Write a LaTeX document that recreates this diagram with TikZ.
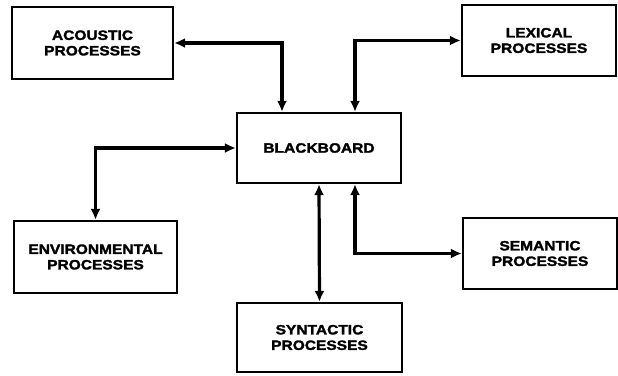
\documentclass[tikz,border=0pt]{standalone}
\usepackage{fontspec}
\newfontfamily\procfont[FakeStretch=1.15,BoldFeatures={FakeBold=2}]{Liberation Sans}
\usetikzlibrary{arrows.meta}

\tikzset{
    procbox/.style={draw,line width=2.2pt,align=center,inner sep=0pt,
        font=\procfont\bfseries\fontsize{13.5}{15.5}\selectfont},
    link/.style={line width=3.2pt,{Latex[length=11pt,width=10pt]}-{Latex[length=11pt,width=10pt]}}
}

\begin{document}
\begin{tikzpicture}[x=1pt,y=-1pt]
    \useasboundingbox (0,0) rectangle (618,375);
    \node[procbox,minimum width=161pt,minimum height=72pt] (acoustic) at (92.5,43) {ACOUSTIC\\PROCESSES};
    \node[procbox,minimum width=164pt,minimum height=70pt] (bb) at (319,148) {BLACKBOARD};
    \node[procbox,minimum width=154pt,minimum height=71pt] (lexical) at (539,40.5) {LEXICAL\\PROCESSES};
    \node[procbox,minimum width=163pt,minimum height=72pt] (environ) at (95.5,257) {ENVIRONMENTAL\\PROCESSES};
    \node[procbox,minimum width=165pt,minimum height=69pt] (syntactic) at (319.5,337.5) {SYNTACTIC\\PROCESSES};
    \node[procbox,minimum width=154pt,minimum height=71pt] (semantic) at (540,253.5) {SEMANTIC\\PROCESSES};

    \draw[link] (acoustic.east) -| ([xshift=-37pt]bb.north);
    \draw[link] ([xshift=36pt]bb.north) |- (lexical.west);
    \draw[link] (bb.west) -| (environ.north);
    \draw[link] (bb.south) -- (syntactic.north);
    \draw[link] ([xshift=36pt]bb.south) |- (semantic.west);
\end{tikzpicture}
\end{document}
